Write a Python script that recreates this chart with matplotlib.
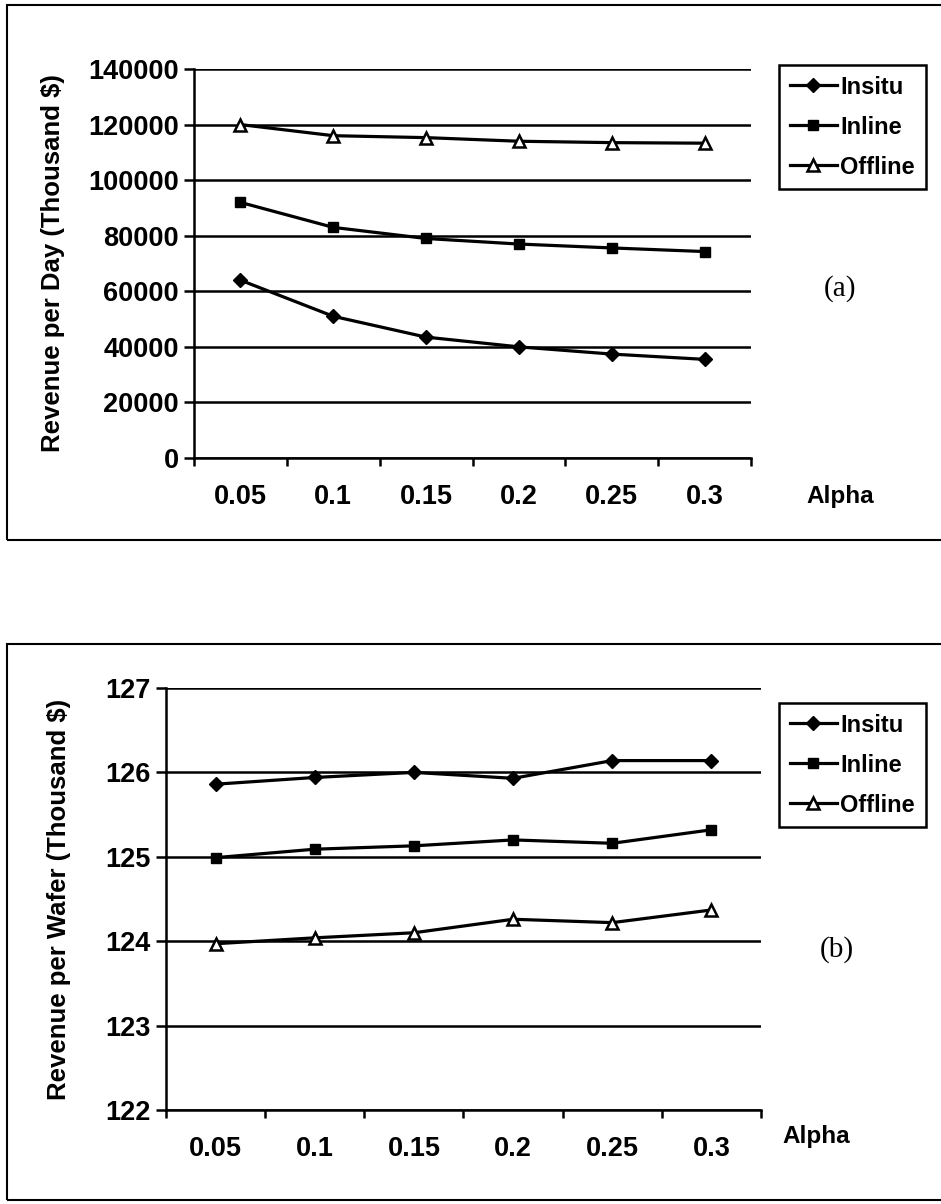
import matplotlib
matplotlib.use("Agg")
import matplotlib.pyplot as plt
from matplotlib.patches import Rectangle

plt.rcParams['font.family'] = ['Liberation Sans', 'DejaVu Sans']
plt.rcParams['font.weight'] = 'bold'
plt.rcParams['axes.labelweight'] = 'bold'

# data
alpha = ["0.05", "0.1", "0.15", "0.2", "0.25", "0.3"]
series = ["Insitu", "Inline", "Offline"]

day_insitu = [64000, 51000, 43500, 40000, 37400, 35500]
day_inline = [92000, 83000, 79000, 77000, 75600, 74300]
day_offline = [120000, 116000, 115300, 114000, 113500, 113300]

wafer_insitu = [125.86, 125.94, 126.0, 125.93, 126.14, 126.14]
wafer_inline = [124.99, 125.09, 125.13, 125.2, 125.16, 125.32]
wafer_offline = [123.97, 124.04, 124.1, 124.26, 124.22, 124.37]

W, H = 941, 1204
fig = plt.figure(figsize=(W / 100, H / 100), dpi=100)


def box(x0, y0, x1, y1):
    # pixel box (top-left origin) -> figure fraction rect
    return [x0 / W, 1 - y1 / H, (x1 - x0) / W, (y1 - y0) / H]


styles = [
    dict(marker='D', markersize=7, markerfacecolor='black'),
    dict(marker='s', markersize=6.5, markerfacecolor='black'),
    dict(marker='^', markersize=8, markerfacecolor='white', markeredgewidth=1.8),
]


def draw_panel(rect, values, ylim, yticks, ylabel, ylabel_x, legend_xy, tag_xy, tag, alpha_xy):
    ax = fig.add_axes(box(*rect))
    x = list(range(len(alpha)))
    for name, vals, st in zip(series, values, styles):
        ax.plot(x, vals, color='black', linewidth=2.3, markeredgecolor='black',
                label=name, clip_on=False, zorder=3, **st)
    ax.set_xlim(-0.5, len(alpha) - 0.5)
    ax.set_ylim(*ylim)
    ax.set_yticks(yticks)
    ax.set_yticklabels([str(t) for t in yticks])
    ax.yaxis.grid(True, color='black', linewidth=1.8)
    ax.set_axisbelow(True)
    # tick marks between categories, labels at category centres
    ax.set_xticks([i - 0.5 for i in range(len(alpha) + 1)])
    ax.set_xticklabels([])
    ax.set_xticks(x, minor=True)
    ax.set_xticklabels(alpha, minor=True)
    ax.tick_params(axis='x', which='major', direction='out', length=6, width=1.8)
    ax.tick_params(axis='x', which='minor', length=0, pad=19, labelsize=19.5)
    ax.tick_params(axis='y', direction='out', length=7, width=1.8, labelsize=19.5, pad=4)
    for s in ['top', 'right']:
        ax.spines[s].set_visible(False)
    for s in ['left', 'bottom']:
        ax.spines[s].set_linewidth(1.8)
    ax.set_ylabel(ylabel, fontsize=18.5)
    ax.yaxis.set_label_coords((ylabel_x - rect[0]) / (rect[2] - rect[0]), 0.5)
    leg = ax.legend(loc='upper left', bbox_to_anchor=(legend_xy[0] / W, 1 - legend_xy[1] / H),
                    bbox_transform=fig.transFigure, borderaxespad=0, fontsize=17,
                    fancybox=False, framealpha=1, edgecolor='black', handlelength=2.0,
                    handletextpad=0.15, labelspacing=0.72, borderpad=0.45)
    leg.get_frame().set_linewidth(1.8)
    fig.text(tag_xy[0] / W, 1 - tag_xy[1] / H, tag, fontsize=21, fontweight='normal',
             family=['Liberation Serif'], ha='center', va='center')
    fig.text(alpha_xy[0] / W, 1 - alpha_xy[1] / H, "Alpha", fontsize=17.5,
             ha='center', va='center')
    return ax


draw_panel((194, 69, 751, 458), [day_insitu, day_inline, day_offline],
           (0, 140000), list(range(0, 140001, 20000)),
           "Revenue per Day (Thousand $)", 65, (779, 65), (840, 289), "(a)", (840, 496))

draw_panel((166, 688, 761, 1110), [wafer_insitu, wafer_inline, wafer_offline],
           (122, 127), [122, 123, 124, 125, 126, 127],
           "Revenue per Wafer (Thousand $)", 71, (779, 703), (837, 950), "(b)", (816, 1136))

# outer frames round each panel
for y0, y1 in [(5, 540), (644, 1200)]:
    fig.patches.append(Rectangle((7 / W, 1 - y1 / H), (945 - 7) / W, (y1 - y0) / H,
                                 transform=fig.transFigure, fill=False,
                                 edgecolor='black', linewidth=1.5))

fig.savefig("out.png", dpi=100)
